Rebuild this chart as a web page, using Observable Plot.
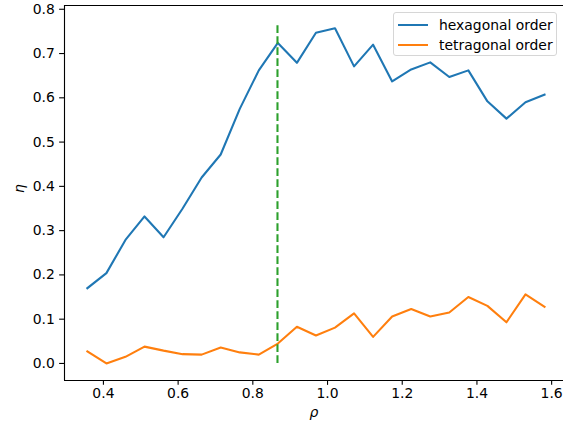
<!DOCTYPE html>
<html>
<head>
<meta charset="utf-8">
<script src="https://cdn.jsdelivr.net/npm/d3@7"></script>
<script src="https://cdn.jsdelivr.net/npm/@observablehq/plot@0.6"></script>
<style>
  html, body { margin: 0; padding: 0; background: #fff; }
  #chart { position: relative; width: 563px; height: 426px; font-family: "DejaVu Sans", sans-serif; }
  .legend {
    position: absolute; left: 393px; top: 12px; width: 164px; height: 44px;
    border: 1px solid #d6d6d6; border-radius: 3px; background: rgba(255,255,255,0.8);
    font-size: 13.9px; color: #000; box-sizing: border-box;
  }
  .legend .row { position: absolute; left: 4px; height: 18px; display: flex; align-items: center; }
  .legend .swatch { width: 30px; height: 0; border-top: 2.1px solid; margin-right: 11px; }
</style>
</head>
<body>
<div id="chart"></div>
<script>
// density values (rho)
const rho = [0.357, 0.408, 0.459, 0.510, 0.561, 0.612, 0.663, 0.714, 0.765, 0.816,
             0.867, 0.918, 0.969, 1.020, 1.071, 1.122, 1.173, 1.224, 1.275, 1.326,
             1.377, 1.428, 1.479, 1.530, 1.581];
// order parameters
const hexagonal = [0.170, 0.204, 0.279, 0.332, 0.285, 0.350, 0.420, 0.472, 0.575, 0.662,
                   0.724, 0.679, 0.747, 0.757, 0.671, 0.720, 0.637, 0.664, 0.680, 0.647,
                   0.662, 0.592, 0.553, 0.590, 0.607];
const tetragonal = [0.027, 0.000, 0.015, 0.038, 0.029, 0.021, 0.020, 0.036, 0.025, 0.020,
                    0.045, 0.083, 0.063, 0.081, 0.113, 0.060, 0.106, 0.123, 0.106, 0.115,
                    0.150, 0.130, 0.093, 0.156, 0.128];
const seriesNames = ["hexagonal order", "tetragonal order"];
const seriesColors = ["#1f77b4", "#ff7f0e"];
// transition marker at sqrt(3)/2
const transitionRho = [0.866];
const transitionTop = 0.77;
const xTicks = [0.4, 0.6, 0.8, 1.0, 1.2, 1.4, 1.6];
const yTicks = [0.0, 0.1, 0.2, 0.3, 0.4, 0.5, 0.6, 0.7, 0.8];

const rows = rho.map((r, i) => ({rho: r, hex: hexagonal[i], tet: tetragonal[i]}));

const xDomain = [0.2958, 1.6422];
const yDomain = [-0.0385, 0.8085];
const fs = 13.9;

const plot = Plot.plot({
  width: 563,
  height: 426,
  marginLeft: 64,
  marginTop: 5,
  marginBottom: 46,
  marginRight: 0,
  style: {fontFamily: "DejaVu Sans, sans-serif", fontSize: fs + "px", background: "#fff", overflow: "hidden"},
  x: {domain: xDomain, range: [64, 566.9]},
  y: {domain: yDomain},
  marks: [
    Plot.line(rows, {x: "rho", y: "hex", stroke: seriesColors[0], strokeWidth: 2.08, strokeLinejoin: "round", strokeLinecap: "square"}),
    Plot.line(rows, {x: "rho", y: "tet", stroke: seriesColors[1], strokeWidth: 2.08, strokeLinejoin: "round", strokeLinecap: "square"}),
    Plot.ruleX(transitionRho, {y1: 0, y2: transitionTop, stroke: "#2ca02c", strokeWidth: 2.08, strokeDasharray: "7.7,3.3"}),
    // spines
    Plot.ruleX([xDomain[0]], {stroke: "#000", strokeWidth: 1.11}),
    Plot.ruleY([yDomain[0]], {stroke: "#000", strokeWidth: 1.11}),
    Plot.ruleY([yDomain[1]], {stroke: "#000", strokeWidth: 1.11}),
    Plot.axisX({ticks: xTicks, tickFormat: d3.format(".1f"), tickSize: 4.86, tickPadding: 3.2, stroke: "#000", strokeWidth: 1.11, fontSize: fs, fill: "#000", label: null}),
    Plot.axisY({ticks: yTicks, tickFormat: d3.format(".1f"), tickSize: 4.86, tickPadding: 4.86, stroke: "#000", strokeWidth: 1.11, fontSize: fs, fill: "#000", label: null}),
    Plot.text(["ρ"], {frameAnchor: "bottom", dy: 36, fontStyle: "italic", fontSize: fs, fill: "#000"}),
    Plot.text(["η"], {frameAnchor: "left", dx: -45, rotate: -90, fontStyle: "italic", fontSize: fs, fill: "#000"})
  ]
});

const chart = document.getElementById("chart");
chart.appendChild(plot);

// legend box
const legend = document.createElement("div");
legend.className = "legend";
seriesNames.forEach((name, i) => {
  const row = document.createElement("div");
  row.className = "row";
  row.style.top = (3 + i * 19.5) + "px";
  const sw = document.createElement("span");
  sw.className = "swatch";
  sw.style.borderTopColor = seriesColors[i];
  const label = document.createElement("span");
  label.textContent = name;
  row.appendChild(sw);
  row.appendChild(label);
  legend.appendChild(row);
});
chart.appendChild(legend);
</script>
</body>
</html>
